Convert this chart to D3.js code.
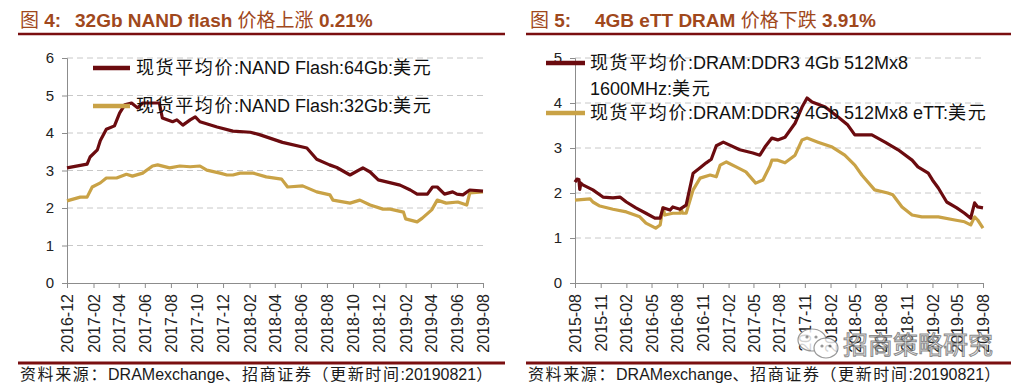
<!DOCTYPE html>
<html><head><meta charset="utf-8">
<script src="https://cdn.jsdelivr.net/npm/d3@7"></script>
<style>
body{margin:0;background:#fff;}
svg text{font-family:"Liberation Sans",Arial,"Noto Sans CJK SC",sans-serif;}
</style></head><body>
<svg id="c" width="1026" height="392"></svg>
<script>
// ---------- Left panel data (NAND flash, USD) ----------
const nand64Dates = ["2016-12-01","2017-01-17","2017-01-24","2017-02-10","2017-02-17","2017-03-03","2017-03-22","2017-04-03","2017-04-15","2017-05-01","2017-05-15","2017-05-27","2017-07-05","2017-07-12","2017-08-05","2017-08-15","2017-08-29","2017-09-15","2017-09-27","2017-10-08","2017-11-17","2017-12-24","2018-02-03","2018-02-26","2018-04-19","2018-06-15","2018-07-08","2018-08-07","2018-08-24","2018-09-24","2018-10-24","2018-11-10","2018-11-29","2019-01-19","2019-02-12","2019-02-28","2019-03-24","2019-04-05","2019-04-16","2019-05-03","2019-05-22","2019-06-01","2019-06-15","2019-07-01","2019-08-01"];
const nand64Values = [3.07,3.17,3.36,3.55,3.8,4.1,4.19,4.53,4.75,4.8,4.67,4.8,4.8,4.4,4.3,4.35,4.21,4.35,4.43,4.3,4.16,4.05,4.02,3.95,3.75,3.6,3.3,3.15,3.08,2.88,3.07,2.96,2.75,2.61,2.48,2.37,2.37,2.56,2.56,2.37,2.43,2.37,2.35,2.48,2.45];
const nand32Dates = ["2016-12-01","2017-01-01","2017-01-17","2017-01-29","2017-02-17","2017-03-03","2017-03-27","2017-04-19","2017-05-03","2017-05-27","2017-06-19","2017-07-01","2017-07-29","2017-08-22","2017-09-15","2017-10-08","2017-10-24","2017-11-24","2017-12-10","2017-12-24","2018-01-10","2018-02-10","2018-03-12","2018-04-17","2018-05-01","2018-06-05","2018-07-08","2018-08-08","2018-08-15","2018-09-24","2018-10-17","2018-11-10","2018-12-10","2018-12-27","2019-01-27","2019-02-01","2019-02-28","2019-03-12","2019-04-03","2019-04-16","2019-05-07","2019-06-03","2019-06-24","2019-07-01","2019-08-01"];
const nand32Values = [2.19,2.29,2.29,2.56,2.67,2.8,2.8,2.9,2.85,2.93,3.12,3.15,3.07,3.12,3.1,3.12,3.01,2.93,2.88,2.88,2.93,2.93,2.83,2.77,2.56,2.59,2.43,2.35,2.21,2.13,2.21,2.08,1.97,1.97,1.89,1.71,1.63,1.73,1.95,2.21,2.13,2.16,2.08,2.4,2.43];
const leftTickLabels = ["2016-12","2017-02","2017-04","2017-06","2017-08","2017-10","2017-12","2018-02","2018-04","2018-06","2018-08","2018-10","2018-12","2019-02","2019-04","2019-06","2019-08"];
const leftYTicks = [0,1,2,3,4,5,6];

// ---------- Right panel data (DRAM DDR3 4Gb, USD) ----------
const ddr3Dates = ["2015-08-01","2015-08-08","2015-08-15","2015-08-18","2015-08-22","2015-08-29","2015-10-04","2015-11-09","2015-12-15","2016-01-09","2016-02-01","2016-03-06","2016-04-11","2016-05-13","2016-06-01","2016-06-11","2016-07-06","2016-07-16","2016-08-11","2016-09-02","2016-09-27","2016-10-22","2016-11-13","2016-12-01","2016-12-19","2017-01-13","2017-03-13","2017-04-29","2017-05-24","2017-06-11","2017-07-06","2017-07-27","2017-08-22","2017-09-27","2017-10-22","2017-11-09","2017-11-27","2018-01-13","2018-02-28","2018-04-04","2018-04-29","2018-06-29","2018-08-15","2018-10-01","2018-11-20","2018-12-11","2019-01-17","2019-02-01","2019-02-22","2019-03-24","2019-04-29","2019-05-27","2019-06-18","2019-07-02","2019-07-13","2019-08-01"];
const ddr3Values = [2.24,2.31,2.3,2.08,2.22,2.18,2.07,1.91,1.89,1.91,1.8,1.67,1.55,1.44,1.44,1.67,1.62,1.69,1.64,1.73,2.44,2.56,2.67,2.75,3.05,3.13,2.96,2.89,2.84,3.02,3.22,3.18,3.24,3.55,3.91,4.11,4.02,3.91,3.69,3.51,3.29,3.29,3.13,2.96,2.73,2.58,2.44,2.29,2.11,1.8,1.67,1.55,1.44,1.78,1.69,1.67];
const ettDates = ["2015-08-01","2015-09-24","2015-10-04","2015-10-29","2015-12-15","2016-02-01","2016-03-20","2016-04-11","2016-05-16","2016-06-01","2016-06-11","2016-06-18","2016-07-16","2016-08-11","2016-08-15","2016-08-20","2016-09-02","2016-09-27","2016-10-22","2016-11-27","2016-12-19","2017-01-02","2017-01-24","2017-02-28","2017-04-04","2017-05-09","2017-06-04","2017-06-29","2017-07-06","2017-07-27","2017-08-22","2017-09-27","2017-10-22","2017-11-09","2017-12-18","2018-02-07","2018-03-24","2018-04-29","2018-05-24","2018-07-09","2018-08-25","2018-09-12","2018-10-15","2018-11-20","2018-12-25","2019-02-22","2019-04-22","2019-05-27","2019-06-18","2019-07-02","2019-07-13","2019-08-01"];
const ettValues = [1.84,1.87,1.8,1.71,1.64,1.58,1.47,1.33,1.22,1.29,1.67,1.51,1.55,1.55,1.65,1.55,1.55,2.07,2.33,2.4,2.36,2.62,2.69,2.58,2.47,2.22,2.29,2.6,2.73,2.73,2.67,2.84,3.18,3.22,3.13,3.02,2.84,2.62,2.4,2.07,2.0,1.96,1.69,1.51,1.47,1.47,1.4,1.36,1.29,1.47,1.4,1.22];
const rightTickLabels = ["2015-08","2015-11","2016-02","2016-05","2016-08","2016-11","2017-02","2017-05","2017-08","2017-11","2018-02","2018-05","2018-08","2018-11","2019-02","2019-05","2019-08"];
const rightYTicks = [0,1,2,3,4,5];

const COL_DARK = "#6b0b0f";
const COL_GOLD = "#c9a246";
const COL_TITLE = "#a0481c";
const COL_RULE = "#7a0f10";

const svg = d3.select("#c");
const parseD = d3.timeParse("%Y-%m-%d");
const parseM = d3.timeParse("%Y-%m");
const fmtM = d3.timeFormat("%Y-%m");

function zip(dates, vals){ return dates.map((d,i)=>({date:parseD(d), v:vals[i]})); }

function addRuns(textSel, str){
  const re = /[\u3000-\u9fff\uff00-\uffef]+|[^\u3000-\u9fff\uff00-\uffef]+/g;
  (str.match(re)||[]).forEach(run=>{
    const t = textSel.append("tspan").text(run);
    if (/[\u3000-\u9fff\uff00-\uffef]/.test(run)) t.attr("letter-spacing","1.6px");
  });
}

function panel(cfg){
  const g = svg.append("g");
  // title
  const tt = g.append("text").attr("x", cfg.titleX).attr("y", 27)
    .attr("fill", COL_TITLE).attr("font-size", 19).attr("font-weight","bold");
  tt.append("tspan").attr("font-weight","normal").attr("font-family","Noto Sans CJK SC").text("图");
  tt.append("tspan").text(" " + cfg.figNo + ":");
  tt.append("tspan").attr("x", cfg.titleX2).text(cfg.titleA);
  tt.append("tspan").attr("font-weight","normal").attr("font-family","Noto Sans CJK SC").text(cfg.titleCJK);
  tt.append("tspan").text(" " + cfg.titleB);
  g.append("line").attr("x1", cfg.ruleX1).attr("x2", cfg.ruleX2).attr("y1", 34).attr("y2", 34)
    .attr("stroke", COL_RULE).attr("stroke-width", 2.5);

  const x = d3.scaleTime().domain([parseM(cfg.ticks[0]), parseM(cfg.ticks[cfg.ticks.length-1])]).range([cfg.x0, cfg.x1]);
  const y = d3.scaleLinear().domain([0, d3.max(cfg.yTicks)]).range([283, 58]);

  // grid
  g.append("g").selectAll("line").data(cfg.yTicks.filter(d=>d>0)).join("line")
    .attr("x1", cfg.x0).attr("x2", cfg.x1).attr("y1", d=>y(d)).attr("y2", d=>y(d))
    .attr("stroke", "#c8c8c8").attr("stroke-dasharray","6,4").attr("stroke-width",1);

  // y axis
  const ya = g.append("g").attr("transform",`translate(${cfg.x0},0)`)
    .call(d3.axisLeft(y).tickValues(cfg.yTicks).tickSize(5).tickPadding(8).tickFormat(d3.format("d")));
  ya.select(".domain").attr("stroke","#8c8c8c");
  ya.selectAll(".tick line").attr("stroke","#8c8c8c");
  ya.selectAll(".tick text").attr("font-size",15).attr("fill","#222").attr("font-family","Liberation Sans, Arial, sans-serif");

  // x axis
  const xa = g.append("g").attr("transform","translate(0,283)")
    .call(d3.axisBottom(x).tickValues(cfg.ticks.map(parseM)).tickSize(5).tickSizeOuter(0).tickFormat(fmtM));
  xa.select(".domain").attr("stroke","#8c8c8c");
  xa.selectAll(".tick line").attr("stroke","#8c8c8c");
  xa.selectAll(".tick text").attr("font-size",16).attr("fill","#222")
    .attr("font-family","Liberation Sans, Arial, sans-serif")
    .attr("transform","rotate(-90)").attr("text-anchor","end")
    .attr("x",-11).attr("y",0).attr("dy","0.35em");

  const line = d3.line().x(d=>x(d.date)).y(d=>y(d.v));
  cfg.series.forEach(s=>{
    g.append("path").datum(s.data).attr("d", line).attr("fill","none")
      .attr("stroke", s.color).attr("stroke-width", 3.2).attr("stroke-linejoin","round");
  });

  // legend
  cfg.legend.forEach(L=>{
    g.append("line").attr("x1", L.lx1).attr("x2", L.lx2).attr("y1", L.ly).attr("y2", L.ly)
      .attr("stroke", L.color).attr("stroke-width", 4.5);
    L.lines.forEach((s,i)=>{
      const t = g.append("text").attr("x", L.tx).attr("y", L.ty + i*26).attr("font-size", 18).attr("fill","#111");
      addRuns(t, s);
    });
  });

  // bottom rule + source
  g.append("line").attr("x1", cfg.ruleX1).attr("x2", cfg.ruleX2).attr("y1", 363).attr("y2", 363)
    .attr("stroke", COL_RULE).attr("stroke-width", 3);
  const src = g.append("text").attr("x", cfg.srcX).attr("y", 380).attr("font-size", 16).attr("fill","#1a1a1a");
  addRuns(src, "资料来源：DRAMexchange、招商证券（更新时间:20190821）");
  return g;
}

panel({
  figNo:"4", titleX:20, titleX2:75, titleA:"32Gb NAND flash ", titleCJK:"价格上涨", titleB:"0.21%",
  ruleX1:18, ruleX2:505, srcX:20, x0:67, x1:483,
  ticks:leftTickLabels, yTicks:leftYTicks,
  series:[{data:zip(nand32Dates,nand32Values), color:COL_GOLD},{data:zip(nand64Dates,nand64Values), color:COL_DARK}],
  legend:[
    {color:COL_DARK, lx1:93, lx2:130, ly:68, tx:136, ty:74, lines:["现货平均价:NAND Flash:64Gb:美元"]},
    {color:COL_GOLD, lx1:93, lx2:130, ly:106, tx:136, ty:112, lines:["现货平均价:NAND Flash:32Gb:美元"]}
  ]
});

panel({
  figNo:"5", titleX:530, titleX2:595, titleA:"4GB eTT DRAM ", titleCJK:"价格下跌", titleB:"3.91%",
  ruleX1:526, ruleX2:1011, srcX:528, x0:575, x1:983,
  ticks:rightTickLabels, yTicks:rightYTicks,
  series:[{data:zip(ettDates,ettValues), color:COL_GOLD},{data:zip(ddr3Dates,ddr3Values), color:COL_DARK}],
  legend:[
    {color:COL_DARK, lx1:546, lx2:585, ly:63, tx:590, ty:69, lines:["现货平均价:DRAM:DDR3 4Gb 512Mx8","1600MHz:美元"]},
    {color:COL_GOLD, lx1:546, lx2:585, ly:113, tx:590, ty:119, lines:["现货平均价:DRAM:DDR3 4Gb 512Mx8 eTT:美元"]}
  ]
});

// watermark
const wm = svg.append("g").attr("opacity",0.8);
wm.append("ellipse").attr("cx",812).attr("cy",340).attr("rx",14).attr("ry",11).attr("fill","#fff").attr("stroke","#808080").attr("stroke-width",1.2);
wm.append("ellipse").attr("cx",826).attr("cy",348).attr("rx",12).attr("ry",10).attr("fill","#fff").attr("stroke","#808080").attr("stroke-width",1.2);
[[807,337],[816,337],[822,346],[830,346]].forEach(p=>wm.append("circle").attr("cx",p[0]).attr("cy",p[1]).attr("r",1.6).attr("fill","#808080"));
wm.append("text").attr("x",843).attr("y",354).attr("font-size",25).attr("fill","#e8e8e8")
  .attr("stroke","#6f6f6f").attr("stroke-width",1).attr("font-family","Noto Sans CJK SC").text("招商策略研究");
</script>
</body></html>
